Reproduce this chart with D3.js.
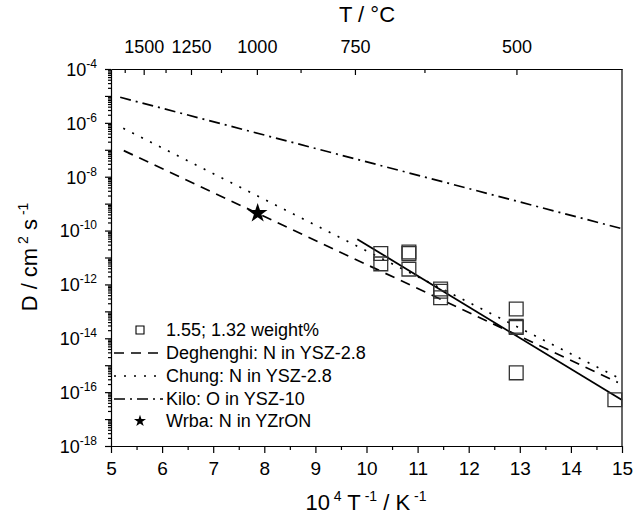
<!DOCTYPE html>
<html><head><meta charset="utf-8">
<script src="https://cdn.jsdelivr.net/npm/d3@7"></script>
<style>
body{margin:0;background:#fff}
svg{display:block}
text{font-family:"Liberation Sans",Arial,sans-serif;fill:#000}
</style>
</head><body>
<svg id="c" width="634" height="518"></svg>
<script>
// ---------- data ----------
const xTickValues = [5,6,7,8,9,10,11,12,13,14,15];
const xMinorValues = [5.5,6.5,7.5,8.5,9.5,10.5,11.5,12.5,13.5,14.5];
const tempMajorC = [1500,1250,1000,750,500];
const tempMinorC = [1625,1375,1125,875,625];
const yExponents = [-18,-17,-16,-15,-14,-13,-12,-11,-10,-9,-8,-7,-6,-5,-4];

// measured points (10^4/T, D)
const sqInvT = [10.28,10.28,10.83,10.83,10.83,11.45,11.45,11.45,12.93,12.93,12.93,12.93,14.86];
const sqD    = [1.4e-11,5.8e-12,1.6e-11,1.4e-11,3.7e-12,6.8e-13,5.6e-13,3.2e-13,1.23e-13,2.8e-14,2.5e-14,5.2e-16,5.2e-17];

// literature lines (end points)
const deghenghiInvT = [5.25,14.92];
const deghenghiD    = [9.3e-8,2.3e-16];
const chungInvT = [5.24,14.92];
const chungD    = [6.3e-7,3.5e-16];
const kiloInvT = [5.18,15.0];
const kiloD    = [8.9e-6,1.17e-10];
const fitInvT = [9.82,15.0];
const fitD    = [4.8e-11,5.1e-17];
const wrbaInvT = [7.87];
const wrbaD    = [4.4e-10];

const legendLabels = ["1.55; 1.32 weight%","Deghenghi: N in YSZ-2.8","Chung: N in YSZ-2.8","Kilo: O in YSZ-10","Wrba: N in YZrON"];

// ---------- layout ----------
const L=111, R=622, T=69, B=446;
const svg = d3.select("#c");
const x = d3.scaleLinear().domain([5,15]).range([L,R]);
const y = d3.scaleLog().domain([1e-18,1e-4]).range([B,T]);
const zip = (a,b)=>a.map((v,i)=>[v,b[i]]);

function richText(sel, parts, supSize, shift){
  let prevSup=false;
  parts.forEach(([s,isSup])=>{
    const t = sel.append("tspan").text(s);
    if(isSup && !prevSup){ t.attr("dy",-shift).attr("font-size",supSize); }
    else if(!isSup && prevSup){ t.attr("dy",shift); }
    prevSup=isSup;
  });
}

// ---------- axes ----------
const axStyle = g=>{ g.selectAll("path,line").attr("stroke","#000").attr("stroke-width",1.2); g.selectAll("text").attr("font-size",18); };

// bottom
svg.append("g").attr("transform",`translate(0,${B})`)
  .call(d3.axisBottom(x).tickValues(xTickValues).tickFormat(d3.format("d")).tickSize(7).tickSizeOuter(0).tickPadding(9))
  .call(axStyle).call(g=>g.selectAll("text").attr("font-family",null).attr("font-size",19));
svg.append("g").attr("transform",`translate(0,${B})`)
  .call(d3.axisBottom(x).tickValues(xMinorValues).tickFormat("").tickSize(4).tickSizeOuter(0))
  .call(axStyle).call(g=>g.select(".domain").remove());

// top (temperature in °C)
const invT = c => 1e4/(c+273.15);
svg.append("g").attr("transform",`translate(0,${T})`)
  .call(d3.axisTop(x).tickValues(tempMajorC.map(invT)).tickFormat((d,i)=>tempMajorC[i]).tickSize(-6).tickSizeOuter(0).tickPadding(16))
  .call(axStyle);
svg.append("g").attr("transform",`translate(0,${T})`)
  .call(d3.axisTop(x).tickValues(tempMinorC.map(invT)).tickFormat("").tickSize(-4).tickSizeOuter(0))
  .call(axStyle).call(g=>g.select(".domain").remove());

// left
const decades = yExponents.map(e=>Math.pow(10,e));
const minors = [];
yExponents.slice(0,-1).forEach(e=>{ for(let k=2;k<=9;k++) minors.push(k*Math.pow(10,e)); });
const yAx = svg.append("g").attr("transform",`translate(${L},0)`)
  .call(d3.axisLeft(y).tickValues(decades).tickFormat(()=>"").tickSize(6).tickSizeOuter(0).tickPadding(8))
  .call(axStyle);
yAx.selectAll(".tick text").each(function(d,i){
  const e = yExponents[i];
  if(e%2!==0) return;
  const t = d3.select(this).attr("dy","0.35em");
  richText(t, [["10",false],[String(e),true]], 12, 8);
});
svg.append("g").attr("transform",`translate(${L},0)`)
  .call(d3.axisLeft(y).tickValues(minors).tickFormat("").tickSize(3).tickSizeOuter(0))
  .call(axStyle).call(g=>g.select(".domain").remove());

// right border
svg.append("line").attr("x1",R).attr("x2",R).attr("y1",T).attr("y2",B).attr("stroke","#000").attr("stroke-width",1.2);

// ---------- titles ----------
svg.append("text").attr("x",367).attr("y",22).attr("text-anchor","middle").attr("font-size",22).text("T / °C");
const xt = svg.append("text").attr("x",366).attr("y",510).attr("text-anchor","middle").attr("font-size",22);
richText(xt, [["10",false],[" 4",true],[" T",false],[" -1",true],[" / K",false],[" -1",true]], 14, 9);
const yt = svg.append("text").attr("transform",`translate(37,257) rotate(-90)`).attr("text-anchor","middle").attr("font-size",22);
richText(yt, [["D / cm",false],[" 2",true],[" s",false],[" -1",true]], 14, 9);

// ---------- lines ----------
const line = d3.line().x(d=>x(d[0])).y(d=>y(d[1]));
const plotG = svg.append("g");
plotG.append("path").datum(zip(kiloInvT,kiloD)).attr("d",line).attr("fill","none").attr("stroke","#000").attr("stroke-width",1.7).attr("stroke-dasharray","11,5,2,5");
plotG.append("path").datum(zip(chungInvT,chungD)).attr("d",line).attr("fill","none").attr("stroke","#000").attr("stroke-width",1.7).attr("stroke-dasharray","2,8");
plotG.append("path").datum(zip(deghenghiInvT,deghenghiD)).attr("d",line).attr("fill","none").attr("stroke","#000").attr("stroke-width",1.7).attr("stroke-dasharray","10,7");
plotG.append("path").datum(zip(fitInvT,fitD)).attr("d",line).attr("fill","none").attr("stroke","#000").attr("stroke-width",1.8);

// squares
plotG.selectAll(".sq").data(zip(sqInvT,sqD)).join("path").attr("class","sq")
  .attr("transform",d=>`translate(${x(d[0])},${y(d[1])})`)
  .attr("d",d3.symbol(d3.symbolSquare,190)).attr("fill","none").attr("stroke","#333").attr("stroke-width",1.3);
// star
plotG.selectAll(".st").data(zip(wrbaInvT,wrbaD)).join("path").attr("class","st")
  .attr("transform",d=>`translate(${x(d[0])},${y(d[1])})`)
  .attr("d",d3.symbol(d3.symbolStar,120)).attr("fill","#000");

// ---------- legend ----------
const lgY = [330,353,376,399,421];
const lg = svg.append("g");
lg.append("path").attr("transform",`translate(140,${lgY[0]})`).attr("d",d3.symbol(d3.symbolSquare,64)).attr("fill","none").attr("stroke","#000").attr("stroke-width",1.1);
const lgStyles = ["10,7","2,8","11,5,2,5"];
lgStyles.forEach((s,i)=>{
  lg.append("line").attr("x1",114).attr("x2",163).attr("y1",lgY[i+1]).attr("y2",lgY[i+1]).attr("stroke","#000").attr("stroke-width",1.7).attr("stroke-dasharray",s);
});
lg.append("path").attr("transform",`translate(140,${lgY[4]})`).attr("d",d3.symbol(d3.symbolStar,45)).attr("fill","#000");
legendLabels.forEach((t,i)=>{
  lg.append("text").attr("x",166).attr("y",lgY[i]).attr("dy","0.35em").attr("font-size",18).text(t);
});
</script>
</body></html>
